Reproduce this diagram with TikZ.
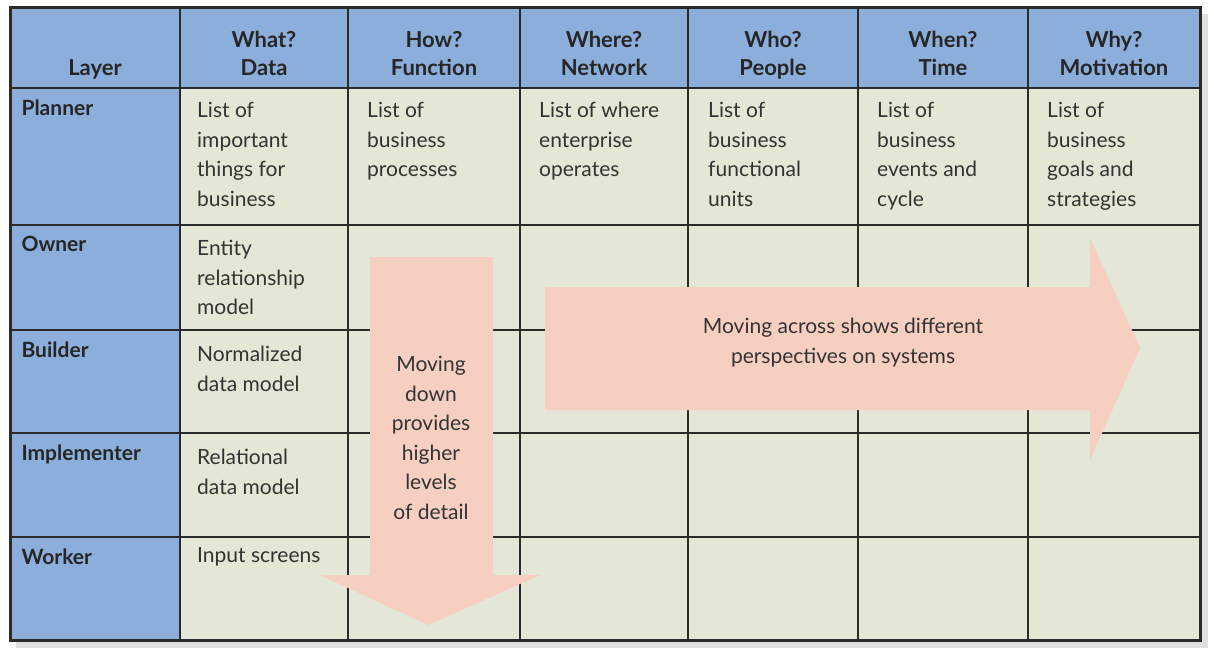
\documentclass[tikz,border=0pt]{standalone}
\usepackage{fontspec}
\setmainfont{Lato}
\usepackage{tikz}
\usetikzlibrary{positioning}
\definecolor{headblue}{HTML}{8CAEDB}
\definecolor{cellgrey}{HTML}{E4E7D6}
\definecolor{arrowpink}{HTML}{F6CFC0}
\definecolor{framedark}{HTML}{2A2A2A}
\tikzset{
  head/.style={anchor=south,align=center,text depth=5pt,font=\fontsize{22}{28}\selectfont\bfseries,text=black!85},
  layer/.style={anchor=north west,align=left,font=\fontsize{21}{28}\selectfont\bfseries,text=black!85},
  cell/.style={anchor=north west,align=left,inner sep=0pt,font=\fontsize{21}{29.5}\selectfont,text=black!80},
  bigarrow/.style={fill=arrowpink,draw=none},
}
\begin{document}
\begin{tikzpicture}[x=1pt,y=-1pt]
    \useasboundingbox (0,0) rectangle (1214,652);
    % shadow and backgrounds
    \fill[black!12] (16,14) rectangle (1208,648);
    \fill[cellgrey] (10,8) rectangle (1200,640);
    \fill[headblue] (10,8) rectangle (1200,88);
    \fill[headblue] (10,88) rectangle (180,640);

    % grid
    \foreach \x in {180,348,520,688,858,1028}
      \draw[framedark,line width=1.4pt] (\x,8) -- (\x,640);
    \foreach \y in {88,225,330,433,537}
      \draw[framedark,line width=1.4pt] (10,\y) -- (1200,\y);

    % arrows
    \path[bigarrow] (370,257) -- (493,257) -- (493,575) -- (540,575)
      -- (428,625) -- (320,575) -- (370,575) -- cycle;
    \path[bigarrow] (545,287) -- (1090,287) -- (1090,238) -- (1140,348)
      -- (1090,460) -- (1090,410) -- (545,410) -- cycle;
    \draw[framedark,line width=3pt] (10,8) rectangle (1200,640);

    % header
    \node[head] (hLayer) at (95,84) {Layer};
    \node[head] (hData) at (264,84) {What?\\Data};
    \node[head] (hFunc) at (434,84) {How?\\Function};
    \node[head] (hNet) at (604,84) {Where?\\Network};
    \node[head] (hPeople) at (773,84) {Who?\\People};
    \node[head] (hTime) at (943,84) {When?\\Time};
    \node[head] (hMot) at (1114,84) {Why?\\Motivation};

    % layers
    \node[layer] (lPlanner) at (18,96) {Planner};
    \node[layer] (lOwner) at (18,233) {Owner};
    \node[layer] (lBuilder) at (18,338) {Builder};
    \node[layer] (lImpl) at (18,441) {Implementer};
    \node[layer] (lWorker) at (18,545) {Worker};

    % cells
    \node[cell] (cPData) at (197,102) {List of\\important\\things for\\business};
    \node[cell] (cPFunc) at (367,102) {List of\\business\\processes};
    \node[cell] (cPNet) at (539,102) {List of where\\enterprise\\operates};
    \node[cell] (cPPeople) at (708,102) {List of\\business\\functional\\units};
    \node[cell] (cPTime) at (877,102) {List of\\business\\events and\\cycle};
    \node[cell] (cPMot) at (1047,102) {List of\\business\\goals and\\strategies};
    \node[cell] (cOData) at (197,240) {Entity\\relationship\\model};
    \node[cell] (cBData) at (197,346) {Normalized\\data model};
    \node[cell] (cIData) at (197,449) {Relational\\data model};
    \node[cell] (cWData) at (197,547) {Input screens};

    % arrow labels
    \node[cell,anchor=north,align=center] (tDown) at (431,356)
      {Moving\\down\\provides\\higher\\levels\\of detail};
    \node[cell,anchor=north,align=center] (tAcross) at (843,318)
      {Moving across shows different\\perspectives on systems};
\end{tikzpicture}
\end{document}
